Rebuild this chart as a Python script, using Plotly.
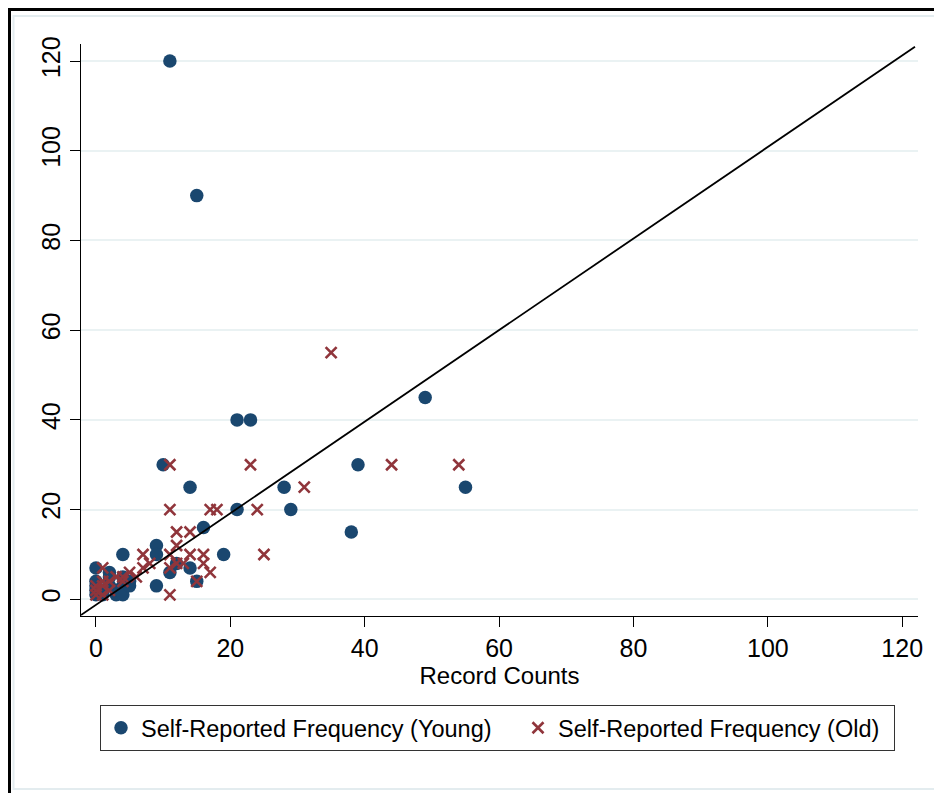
import plotly.graph_objects as go

# ---- data ----
young_x = [0, 0, 0, 0, 0, 1, 1, 2, 2, 2, 3, 3, 4, 4, 4, 4, 5, 5,
           9, 9, 9, 10, 11, 11, 12, 14, 14, 15, 15, 16, 19, 21, 21, 23,
           28, 29, 38, 39, 49, 55]
young_y = [7, 4, 3, 2, 1, 2, 1, 6, 5, 3, 1, 2, 10, 5, 3, 1, 3, 4,
           12, 10, 3, 30, 120, 6, 8, 25, 7, 90, 4, 16, 10, 40, 20, 40,
           25, 20, 15, 30, 45, 25]

old_x = [0, 0, 0, 1, 1, 1, 1, 2, 2, 3, 4, 4, 5, 6, 7, 7, 8,
         11, 11, 11, 11, 11, 12, 12, 12, 13, 14, 14, 15, 16, 16, 17, 17, 18,
         23, 24, 25, 31, 35, 44, 54]
old_y = [1, 2, 3, 1, 3, 4, 7, 2, 4, 5, 5, 4, 6, 5, 7, 10, 8,
         30, 20, 10, 7, 1, 15, 12, 8, 8, 15, 10, 4, 10, 8, 20, 6, 20,
         30, 20, 10, 25, 55, 30, 30]

ref_x = [-2.23, 121.9]
ref_y = [-3.5, 123.2]

x_ticks = [0, 20, 40, 60, 80, 100, 120]
y_ticks = [0, 20, 40, 60, 80, 100, 120]

young_name = "Self-Reported Frequency (Young)"
old_name = "Self-Reported Frequency (Old)"
x_title = "Record Counts"

# ---- layout geometry (page has an 8px body margin) ----
OFF = 8
W, H = 942 - OFF, 793 - OFF
ML, MT = 81 - OFF, 44 - OFF
PR, PB = 918 - OFF, 616 - OFF
MR, MB = W - PR, H - PB
PW, PH = PR - ML, PB - MT

def px2paper_x(px):  # px given in reference-image pixels
    return (px - OFF - ML) / PW

def px2paper_y(py):
    return (PB - (py - OFF)) / PH

FONT = "Liberation Sans, Arial, sans-serif"
NAVY = "#1a476f"
MAROON = "#90353b"

fig = go.Figure()
fig.add_trace(go.Scatter(
    x=young_x, y=young_y, mode="markers", name=young_name,
    marker=dict(symbol="circle", size=13.5, color=NAVY, line=dict(width=0)),
    legendwidth=372,
))
fig.add_trace(go.Scatter(
    x=old_x, y=old_y, mode="markers", name=old_name,
    marker=dict(symbol="x-thin", size=11, color=MAROON,
                line=dict(width=2.6, color=MAROON)),
    legendwidth=331,
))
fig.add_trace(go.Scatter(
    x=ref_x, y=ref_y, mode="lines", showlegend=False,
    line=dict(color="black", width=1.8), hoverinfo="skip",
))

shapes = [
    dict(type="rect", xref="paper", yref="paper",
         x0=px2paper_x(13.5), x1=px2paper_x(940), y0=px2paper_y(789), y1=px2paper_y(16),
         line=dict(color="#e3ecef", width=2), layer="below"),
    dict(type="rect", xref="paper", yref="paper",
         x0=px2paper_x(9.5), x1=px2paper_x(990), y0=px2paper_y(850), y1=px2paper_y(9.5),
         line=dict(color="black", width=3), layer="below"),
]

fig.update_layout(
    width=W, height=H,
    margin=dict(l=ML, r=MR, t=MT, b=MB, autoexpand=False),
    paper_bgcolor="white", plot_bgcolor="white",
    font=dict(family=FONT, size=24, color="black"),
    shapes=shapes,
    showlegend=True,
    legend=dict(
        orientation="h", x=px2paper_x(100), xanchor="left",
        y=px2paper_y(705), yanchor="top",
        bgcolor="white", bordercolor="#333333", borderwidth=1,
        font=dict(family=FONT, size=23.5, color="black"),
    ),
    xaxis=dict(
        range=[-2.23, 122.35], tickvals=x_ticks, ticktext=[str(v) for v in x_ticks],
        showgrid=False, zeroline=False, showline=True, linecolor="black", linewidth=1,
        ticks="outside", ticklen=10, tickwidth=1, tickcolor="black", automargin=False,
        tickfont=dict(family=FONT, size=25, color="black"),
        title=dict(text=x_title, font=dict(family=FONT, size=24, color="black"), standoff=0),
    ),
    yaxis=dict(
        range=[-3.72, 123.8], tickvals=y_ticks, ticktext=[str(v) for v in y_ticks],
        tickangle=-90, automargin=False,
        showgrid=True, gridcolor="#eaf2f3", gridwidth=2,
        zeroline=False, showline=True, linecolor="black", linewidth=1,
        ticks="outside", ticklen=10, tickwidth=1, tickcolor="black",
        tickfont=dict(family=FONT, size=25, color="black"),
    ),
)

fig.write_html("out.html")
